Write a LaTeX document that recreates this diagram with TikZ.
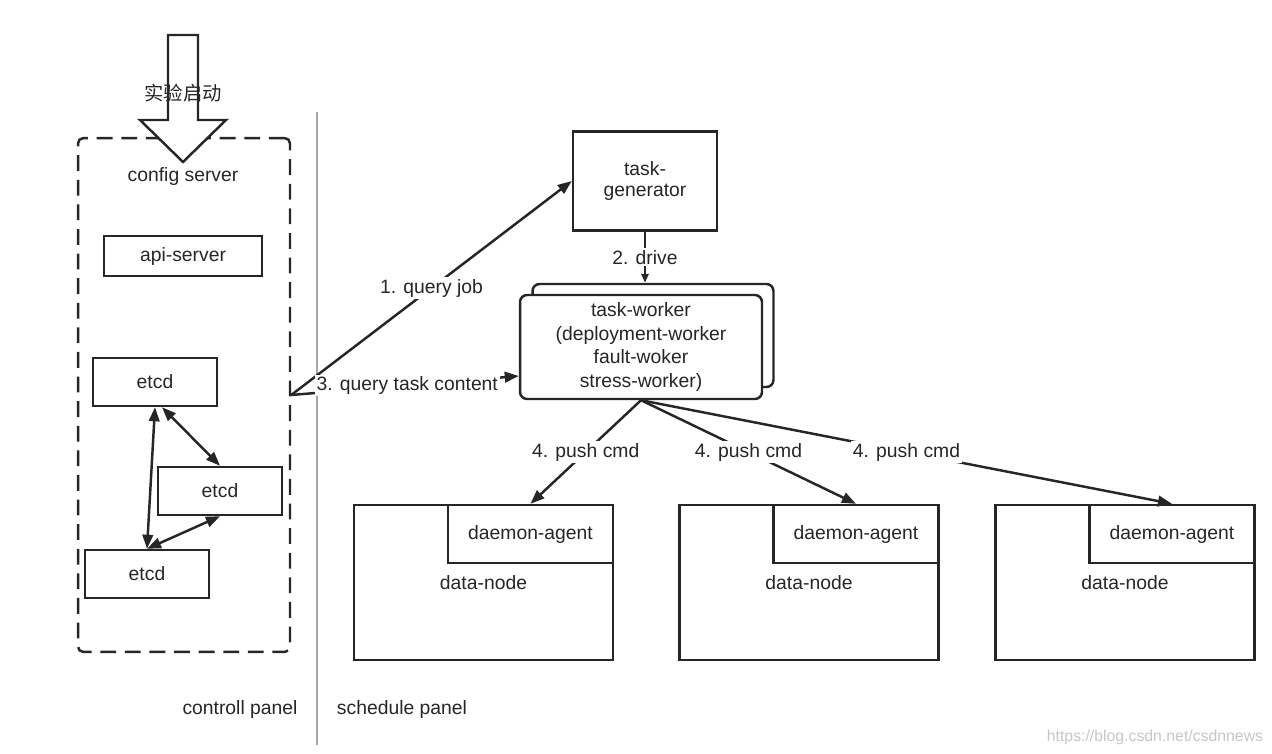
\documentclass[tikz,border=0pt]{standalone}
\usepackage{fontspec}
\setmainfont{Liberation Sans}
\newfontfamily\cjk{Noto Sans CJK SC}
\usetikzlibrary{arrows.meta}

\begin{document}
\begin{tikzpicture}[x=0.02cm,y=-0.02cm,
  font=\fontsize{11}{13}\selectfont, text=black!85,
  >={Triangle[length=8pt,width=6pt]},
  box/.style={draw=black!85,line width=1.4pt,inner sep=0pt,align=center},
  conn/.style={draw=black!85,line width=1.4pt},
  lbl/.style={fill=white,inner sep=1pt}]
  \useasboundingbox (0,0) rectangle (1272,754);
  % control panel
  \node[box,dashed,dash pattern=on 9pt off 5pt,rounded corners=3pt,
    minimum width=4.24cm,minimum height=10.28cm] (cs) at (184,395) {};
  \node (cfg) at (183,176) {config server};
  \node[box,minimum width=3.16cm,minimum height=0.8cm] (api) at (183,256) {api-server};
  \node[box,minimum width=2.48cm,minimum height=0.96cm] (e1) at (155,382) {etcd};
  \node[box,minimum width=2.48cm,minimum height=0.96cm] (e2) at (220,491) {etcd};
  \node[box,minimum width=2.48cm,minimum height=0.96cm] (e3) at (147,574) {etcd};
  \draw[conn,<->] (e1.south) -- (e3.north);
  \draw[conn,<->] ([xshift=0.14cm]e1.south) -- (e2.north);
  \draw[conn,<->] (e2.south) -- (e3.north);
  % start arrow
  \draw[line width=1.4pt,draw=black!85,fill=white,line join=miter]
    (168,35) -- (198,35) -- (198,120) -- (226,120) -- (183,162)
    -- (140,120) -- (168,120) -- cycle;
  \node (start) at (183,93) {\cjk 实验启动};
  \draw[gray!70,line width=0.6pt] (317,112) -- (317,745);
  \node (cp) at (240,709) {controll panel};
  \node (sp) at (402,709) {schedule panel};
  % schedule panel
  \node[box,minimum width=2.88cm,minimum height=1.98cm,font=\fontsize{11}{12.5}\selectfont]
    (tg) at (645,181) {task-\\generator};
  \node[box,rounded corners=4pt,minimum width=4.82cm,minimum height=2.06cm]
    (twb) at (653,335.5) {};
  \node[box,fill=white,rounded corners=4pt,minimum width=4.84cm,minimum height=2.08cm,
    font=\fontsize{11}{13.4}\selectfont]
    (tw) at (641,347) {task-worker\\(deployment-worker\\fault-woker\\stress-worker)};
  \draw[conn,->] (cs.east) -- node[lbl] {1. query job} (tg.west);
  \draw[conn,-{Triangle[length=5pt,width=4pt]}] (tg.south) --
    node[lbl] {2. drive} (tg.south |- twb.north);
  \draw[conn,->] (cs.east) -- node[lbl,pos=0.51] {3. query task content}
    ([yshift=-0.58cm]tw.west);
  % data nodes
  \foreach \n/\x in {1/483.5,2/809,3/1125}{
    \node[box,minimum width=5.18cm,minimum height=3.1cm] (dn\n) at (\x,582.5) {data-node};
    \node[box,minimum width=3.3cm,minimum height=1.16cm,anchor=north east]
      (da\n) at (dn\n.north east) {daemon-agent};
    \draw[conn,->] (tw.south) -- node[lbl] {4. push cmd} (da\n.north);
  }
  \node[text=gray!45,font=\fontsize{9}{11}\selectfont] (wm) at (1155,737)
    {https://blog.csdn.net/csdnnews};
\end{tikzpicture}
\end{document}
